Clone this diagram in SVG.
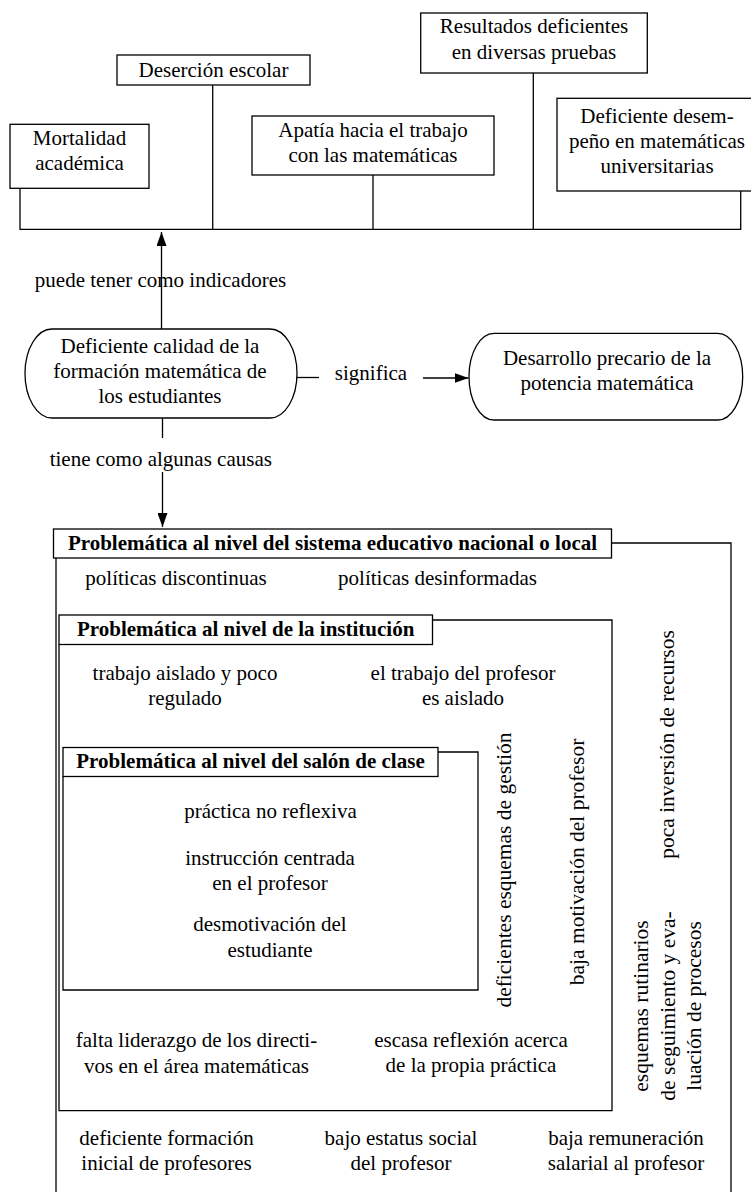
<svg xmlns="http://www.w3.org/2000/svg" width="751" height="1192" viewBox="0 0 751 1192" font-family="'Liberation Serif', 'DejaVu Serif', serif">
<defs>
<style>
text{font-family:'Liberation Serif','DejaVu Serif',serif;font-size:21px;fill:#000;text-anchor:middle}
.b{font-weight:bold}
.v{font-size:21.5px}
.box{fill:#fff;stroke:#000;stroke-width:1.3}
.ln{fill:none;stroke:#000;stroke-width:1.3}
</style>
<marker id="ah" viewBox="0 0 14 10" refX="14" refY="5" markerWidth="14" markerHeight="10" markerUnits="userSpaceOnUse" orient="auto">
<path d="M0,0 L14,5 L0,10 Z" fill="#000"/>
</marker>
</defs>
<rect width="751" height="1192" fill="#fff"/>

<g id="connectors">
<path class="ln" d="M20,188 V229.3 H740.7 V191 M212.7,85 V229.3 M373,175 V229.3 M533.3,73 V229.3"/>
<line class="ln" x1="161.5" y1="329" x2="161.5" y2="232" marker-end="url(#ah)"/>
<line class="ln" x1="297" y1="377.5" x2="319" y2="377.5"/>
<line class="ln" x1="423" y1="378" x2="468.5" y2="378" marker-end="url(#ah)"/>
<line class="ln" x1="162.5" y1="418" x2="162.5" y2="438"/>
<line class="ln" x1="162.5" y1="472" x2="162.5" y2="527" marker-end="url(#ah)"/>
<text x="160.5" y="287">puede tener como indicadores</text>
<text x="371" y="380">significa</text>
<text x="160.8" y="466">tiene como algunas causas</text>
</g>

<g id="n-mortalidad">
<rect class="box" x="10" y="124.3" width="139" height="64"/>
<text x="79.5" y="145">Mortalidad</text>
<text x="79.5" y="170">académica</text>
</g>
<g id="n-desercion">
<rect class="box" x="117" y="55" width="193" height="30"/>
<text x="213.5" y="77">Deserción escolar</text>
</g>
<g id="n-apatia">
<rect class="box" x="252" y="116" width="242" height="59"/>
<text x="373" y="137">Apatía hacia el trabajo</text>
<text x="373" y="162">con las matemáticas</text>
</g>
<g id="n-resultados">
<rect class="box" x="420.7" y="13" width="226.6" height="60"/>
<text x="534" y="33">Resultados deficientes</text>
<text x="534" y="59">en diversas pruebas</text>
</g>
<g id="n-desempeno">
<rect class="box" x="557" y="98.3" width="201" height="92.7"/>
<text x="657" y="123">Deficiente desem-</text>
<text x="657" y="148">peño en matemáticas</text>
<text x="657" y="173">universitarias</text>
</g>

<g id="n-deficiente">
<rect class="box" x="25" y="329" width="272" height="89" rx="27" ry="44.5"/>
<text x="160" y="353">Deficiente calidad de la</text>
<text x="160" y="378">formación matemática de</text>
<text x="160" y="403">los estudiantes</text>
</g>
<g id="n-desarrollo">
<rect class="box" x="469" y="333.3" width="273.7" height="86.7" rx="25" ry="43.3"/>
<text x="607" y="365">Desarrollo precario de la</text>
<text x="607" y="390">potencia matemática</text>
</g>

<g id="n-sistema">
<path class="ln" d="M611.5,543 H731 V1195 M56,558 V1195"/>
<rect class="box" x="53.5" y="529" width="558" height="29"/>
<text class="b" x="332.5" y="550">Problemática al nivel del sistema educativo nacional o local</text>
<text x="176" y="585">políticas discontinuas</text>
<text x="437.5" y="585">políticas desinformadas</text>
<text class="v" transform="translate(674,744.5) rotate(-90)">poca inversión de recursos</text>
<text class="v" transform="translate(648,1006) rotate(-90)">esquemas rutinarios</text>
<text class="v" transform="translate(675,1006) rotate(-90)">de seguimiento y eva-</text>
<text class="v" transform="translate(701,1006) rotate(-90)">luación de procesos</text>
<text x="166.5" y="1145">deficiente formación</text>
<text x="166.5" y="1170">inicial de profesores</text>
<text x="401" y="1145">bajo estatus social</text>
<text x="401" y="1170">del profesor</text>
<text x="626" y="1145">baja remuneración</text>
<text x="626" y="1170">salarial al profesor</text>
</g>

<g id="n-institucion">
<path class="ln" d="M432.5,620 H612 V1110.7 H59 V644.5"/>
<rect class="box" x="59" y="615" width="373.5" height="29.5"/>
<text class="b" x="245.7" y="636">Problemática al nivel de la institución</text>
<text x="185" y="680">trabajo aislado y poco</text>
<text x="185" y="705">regulado</text>
<text x="463" y="680">el trabajo del profesor</text>
<text x="463" y="705">es aislado</text>
<text class="v" transform="translate(510.5,870) rotate(-90)">deficientes esquemas de gestión</text>
<text class="v" transform="translate(584,862) rotate(-90)">baja motivación del profesor</text>
<text x="196.5" y="1047">falta liderazgo de los directi-</text>
<text x="196.5" y="1073">vos en el área matemáticas</text>
<text x="471" y="1047">escasa reflexión acerca</text>
<text x="471" y="1072">de la propia práctica</text>
</g>

<g id="n-salon">
<path class="ln" d="M438,752 H478 V990 H63 V776.5"/>
<rect class="box" x="63" y="747.5" width="375" height="29"/>
<text class="b" x="250.5" y="768">Problemática al nivel del salón de clase</text>
<text x="270.5" y="818">práctica no reflexiva</text>
<text x="270" y="865">instrucción centrada</text>
<text x="270" y="890">en el profesor</text>
<text x="270" y="931">desmotivación del</text>
<text x="270" y="957">estudiante</text>
</g>
</svg>
